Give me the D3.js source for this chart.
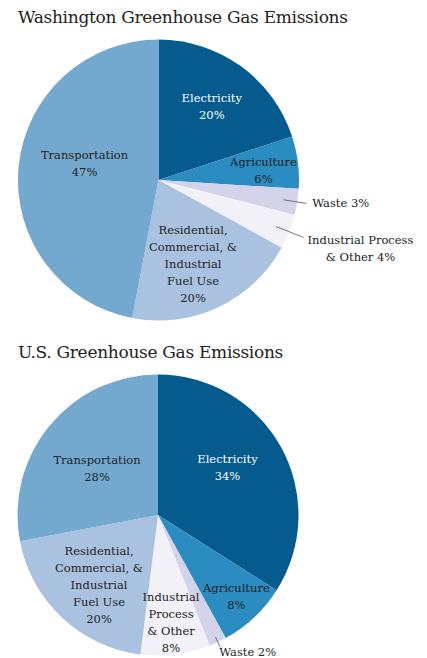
<!DOCTYPE html>
<html>
<head>
<meta charset="utf-8">
<script src="https://cdn.jsdelivr.net/npm/d3@7"></script>
<style>
  body { margin: 0; background: #fff; }
</style>
</head>
<body>
<div id="chart"></div>
<script>
// sectors, clockwise from 12 o'clock
var categories = ["Electricity", "Agriculture", "Waste", "Industrial Process & Other",
                  "Residential, Commercial, & Industrial Fuel Use", "Transportation"]
var waValues = [20, 6, 3, 4, 20, 47]
var usValues = [34, 8, 2, 8, 20, 28]
var titles = ["Washington Greenhouse Gas Emissions", "U.S. Greenhouse Gas Emissions"]

// label text lines per chart
var waLabels = [["Electricity", "20%"], ["Agriculture", "6%"], ["Waste 3%"],
                ["Industrial Process", "& Other 4%"],
                ["Residential,", "Commercial, &", "Industrial", "Fuel Use", "20%"],
                ["Transportation", "47%"]]
var usLabels = [["Electricity", "34%"], ["Agriculture", "8%"], ["Waste 2%"],
                ["Industrial", "Process", "& Other", "8%"],
                ["Residential,", "Commercial, &", "Industrial", "Fuel Use", "20%"],
                ["Transportation", "28%"]]

var colors = ["#055a8e", "#2b8cc2", "#d3d3ea", "#f3f1f8", "#a9c2e0", "#74a9cf"]
var textColors = ["#fff", "#222", "#222", "#222", "#222", "#222"]

var W = 427, H = 658, radius = 140.5, lineH = 17
var font = "'DejaVu Serif', serif"

var svg = d3.select("#chart").append("svg")
  .attr("width", W).attr("height", H)

// layout of each chart: center, title baseline, and label placement per slice
// place: [radius fraction, angle shift (deg)] ; outside: leader line + text offset
var charts = [
  {values: waValues, labels: waLabels, title: titles[0], cx: 158.5, cy: 180, ty: 23,
   place: [[0.65, -0.3], [0.75, 2], null, null, [0.64, 2.6], [0.54, 7.5]],
   outside: [null, null, {r0: 0.9, r1: 1.065, dx: 6, dy: 4, anchor: "start"},
             {r0: 0.9, r1: 1.11, dx: 57, dy: 7, anchor: "middle"}, null, null]},
  {values: usValues, labels: usLabels, title: titles[1], cx: 158, cy: 515, ty: 358,
   place: [[0.6, -5.7], [0.8, -1], null, [0.77, 0.3], [0.65, -3], [0.55, -1.7]],
   outside: [null, null, {r0: 0.96, r1: 1.04, dx: -1, dy: 9, anchor: "start"},
             null, null, null]}
]

charts.forEach(function(c){
  var g = svg.append("g").attr("transform", "translate(" + c.cx + "," + c.cy + ")")

  svg.append("text")
    .attr("x", 18).attr("y", c.ty)
    .attr("fill", "#222")
    .attr("font-family", font)
    .style("font-size", "17px")
    .style("letter-spacing", "-0.3px")
    .text(c.title)

  var pie = d3.pie().sort(null).value(function(d){ return d })
  var arcs = pie(c.values)
  var arc = d3.arc().innerRadius(0).outerRadius(radius)

  g.selectAll("path.slice")
    .data(arcs)
    .enter().append("path")
      .attr("class", "slice")
      .attr("d", arc)
      .attr("fill", function(d, i){ return colors[i] })

  arcs.forEach(function(a, i){
    var mid = (a.startAngle + a.endAngle) / 2
    var lines = c.labels[i]
    var x, y, anchor = "middle"
    if (c.place[i]) {
      var ang = mid + c.place[i][1] * Math.PI / 180
      var r = c.place[i][0] * radius
      x = Math.sin(ang) * r
      y = -Math.cos(ang) * r
      y = y - (lines.length - 1) * lineH / 2 + 4.5
    } else {
      var o = c.outside[i]
      var x0 = Math.sin(mid) * o.r0 * radius, y0 = -Math.cos(mid) * o.r0 * radius
      var x1 = Math.sin(mid) * o.r1 * radius, y1 = -Math.cos(mid) * o.r1 * radius
      g.append("line")
        .attr("x1", x0).attr("y1", y0).attr("x2", x1).attr("y2", y1)
        .attr("stroke", "#555").attr("stroke-width", 0.8)
      x = x1 + o.dx
      y = y1 + o.dy
      anchor = o.anchor
    }
    var t = g.append("text")
      .attr("text-anchor", anchor)
      .attr("fill", textColors[i])
      .attr("font-family", font)
      .style("font-size", "11.5px")
    lines.forEach(function(s, k){
      t.append("tspan").attr("x", x).attr("y", y + k * lineH).text(s)
    })
  })
})
</script>
</body>
</html>
